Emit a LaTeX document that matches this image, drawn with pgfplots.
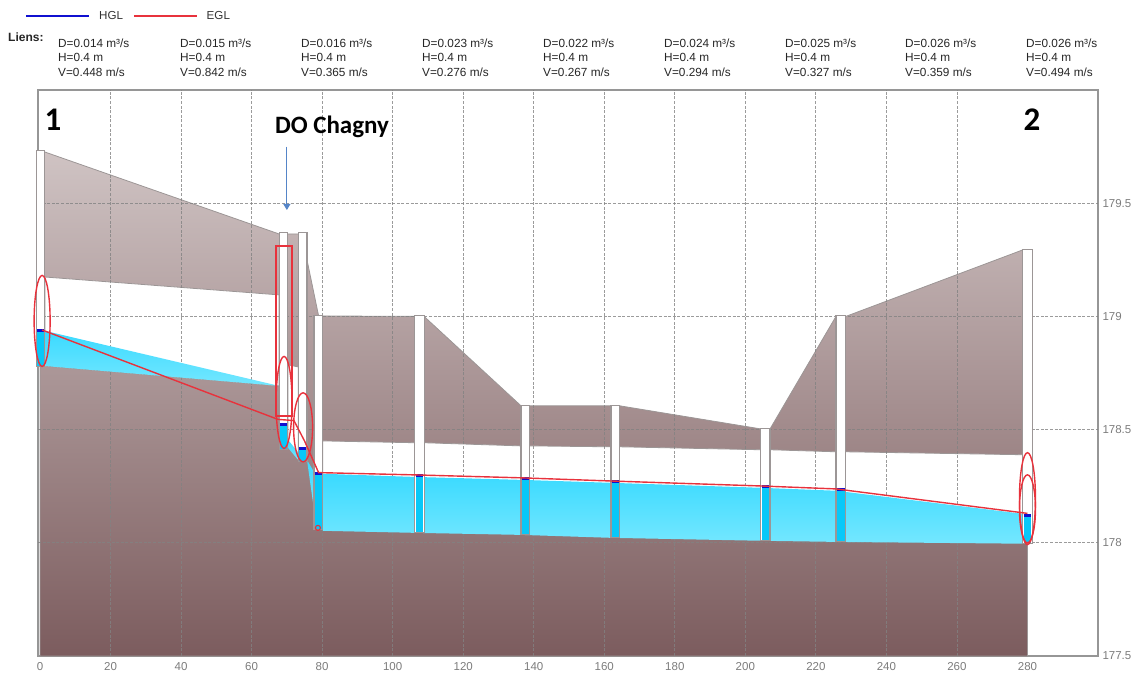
\documentclass[border=0pt]{standalone}
\usepackage{pgfplots}
\pgfplotsset{compat=1.18}
\usetikzlibrary{arrows.meta}
\usepackage{fontspec}
\setmainfont{Liberation Sans}
\newfontfamily\carlito{Carlito}
\definecolor{boxgray}{HTML}{969696}
\definecolor{gridgray}{HTML}{828282}
\definecolor{txtgray}{HTML}{7C7C7C}
\definecolor{groundtop}{HTML}{CFC3C3}
\definecolor{groundbot}{HTML}{7C5C5E}
\definecolor{edgegray}{HTML}{9C9696}
\definecolor{wattop}{HTML}{3ADAFF}
\definecolor{watbot}{HTML}{74E7FF}
\definecolor{deepw}{HTML}{08C8F8}
\definecolor{hgl}{HTML}{1010D0}
\definecolor{egl}{HTML}{E8323C}
\definecolor{arrowb}{HTML}{5585C8}
\pgfplotsset{
  manhole/.style={draw=edgegray,line width=1.1pt,fill=white,forget plot},
  deep/.style={draw=none,fill=deepw,forget plot},
  pipe/.style={draw=edgegray,line width=0.8pt,fill=white,forget plot},
  water/.style={draw=none,top color=wattop,bottom color=watbot,forget plot},
  bar/.style={hgl,line width=2.8pt,forget plot},
  gl/.style={gridgray,line width=0.8pt,dash pattern=on 3pt off 1.6pt,opacity=0.8,forget plot},
}
\newcommand{\linkinfo}[2]{\node[anchor=north west,inner sep=0pt,align=left,font=\fontsize{11.8}{14.5}\selectfont,text=black!85] at (#1pt,636.5pt) {#2};}
\begin{document}
\begin{tikzpicture}[x=1pt,y=1pt]
\path (0,0) rectangle (1137,675);
\begin{axis}[
  at={(38pt,19pt)},anchor=south west,
  width=1060pt,height=566pt,scale only axis,
  xmin=-0.57,xmax=300,ymin=177.5,ymax=180,
  axis line style={boxgray,line width=2.2pt},
  xtick={0,20,...,280},
  ytick={177.5,178,178.5,179,179.5},
  yticklabel pos=right,
  major tick length=0pt,
  tick style={draw=none},
  tick label style={text=txtgray,font=\fontsize{11.5}{13}\selectfont},
  /pgf/number format/assume math mode=true,
  /pgf/number format/fixed,
  /pgf/number format/precision=1,
  yticklabel style={xshift=1pt},
  xticklabel style={yshift=-3pt},
  clip=false,
  legend style={at={(-0.012,1.131)},anchor=west,draw=none,fill=none,legend columns=2,
    font=\fontsize{11.6}{13}\selectfont,text=black!80,
    /tikz/every odd column/.append style={column sep=7pt},
    /tikz/every even column/.append style={column sep=8pt},inner sep=0pt},
]
\addlegendimage{legend image code/.code={\draw[hgl,line width=1.7pt] (0pt,0pt) -- (63pt,0pt);}}
\addlegendentry{HGL}
\addlegendimage{legend image code/.code={\draw[egl,line width=1.7pt] (0pt,0pt) -- (63pt,0pt);}}
\addlegendentry{EGL}

% ground
\addplot[draw=edgegray,line width=0.8pt,top color=groundtop,bottom color=groundbot,forget plot] coordinates {
 (0,177.5)(0,179.726)(1.4,179.726)(67.8,179.364)(75.7,179.364)(75.7,179.25)(79,179.002)
 (106.3,179.0)(108.9,179.0)(136.4,178.605)(164.4,178.605)(204.4,178.503)(207,178.503)
 (225.7,179.0)(228.5,179.0)(278.7,179.294)(280,179.294)(280,177.5)} -- cycle;

% pipes (empty part)
\addplot[pipe] coordinates {(1.4,179.174)(67.8,179.095)(67.8,178.693)(1.4,178.781)} -- cycle;
\addplot[pipe] coordinates {(70.3,178.786)(73.2,178.777)(73.2,178.39)(70.3,178.44)} -- cycle;
\addplot[pipe] coordinates {(80.2,178.450)(106.3,178.442)(108.9,178.442)(136.4,178.428)(138.9,178.428)(161.9,178.424)(164.4,178.424)(204.4,178.411)(207,178.411)(225.7,178.402)(228.5,178.402)(278.7,178.389)(278.7,178.12)(80.2,178.30)} -- cycle;

% grid
\pgfplotsinvokeforeach{20,40,...,260}{\addplot[gl] coordinates {(#1,177.5)(#1,180)};}
\addplot[gl] coordinates {(-0.57,178)(300,178)};
\addplot[gl] coordinates {(-0.57,178.5)(300,178.5)};
\addplot[gl] coordinates {(-0.57,179)(300,179)};
\addplot[gl] coordinates {(-0.57,179.5)(300,179.5)};

% water in the pipes
\addplot[water] coordinates {(1.4,178.936)(67.8,178.693)(1.4,178.781)} -- cycle;
\addplot[water] coordinates {(70.3,178.455)(73.2,178.40)(73.2,178.366)(70.3,178.42)} -- cycle;
\addplot[water] coordinates {(75.7,178.366)(77.7,178.313)(77.7,178.146)} -- cycle;
\addplot[water] coordinates {(80.2,178.305)(106.3,178.291)(136.4,178.278)(161.9,178.265)(204.4,178.243)(225.7,178.230)(278.7,178.128)(278.7,177.996)(225.7,178.004)(204.4,178.009)(161.9,178.022)(136.4,178.035)(106.3,178.044)(80.2,178.053)} -- cycle;

% manholes
\addplot[manhole] coordinates {(-1.1,178.781)(-1.1,179.731)(1.4,179.731)(1.4,178.781)} -- cycle;
\addplot[manhole] coordinates {(67.8,178.411)(67.8,179.369)(70.3,179.369)(70.3,178.411)} -- cycle;
\addplot[manhole] coordinates {(73.2,178.358)(73.2,179.369)(75.7,179.369)(75.7,178.358)} -- cycle;
\addplot[manhole] coordinates {(77.7,178.057)(77.7,179.002)(80.2,179.002)(80.2,178.057)} -- cycle;
\addplot[manhole] coordinates {(106.3,178.044)(106.3,179.002)(108.9,179.002)(108.9,178.044)} -- cycle;
\addplot[manhole] coordinates {(136.4,178.035)(136.4,178.605)(138.9,178.605)(138.9,178.035)} -- cycle;
\addplot[manhole] coordinates {(161.9,178.022)(161.9,178.605)(164.4,178.605)(164.4,178.022)} -- cycle;
\addplot[manhole] coordinates {(204.4,178.009)(204.4,178.503)(207,178.503)(207,178.009)} -- cycle;
\addplot[manhole] coordinates {(225.7,178.004)(225.7,179.002)(228.5,179.002)(228.5,178.004)} -- cycle;
\addplot[manhole] coordinates {(278.7,177.996)(278.7,179.294)(281.3,179.294)(281.3,177.996)} -- cycle;

% water in the manholes
\addplot[deep] coordinates {(-0.9,178.783)(-0.9,178.936)(1.2,178.936)(1.2,178.783)} -- cycle;
\addplot[deep] coordinates {(68,178.413)(68,178.521)(70.1,178.521)(70.1,178.413)} -- cycle;
\addplot[deep] coordinates {(73.4,178.36)(73.4,178.415)(75.5,178.415)(75.5,178.36)} -- cycle;
\addplot[deep] coordinates {(77.9,178.059)(77.9,178.305)(80,178.305)(80,178.059)} -- cycle;
\addplot[deep] coordinates {(106.5,178.046)(106.5,178.296)(108.7,178.296)(108.7,178.046)} -- cycle;
\addplot[deep] coordinates {(136.6,178.037)(136.6,178.283)(138.7,178.283)(138.7,178.037)} -- cycle;
\addplot[deep] coordinates {(162.1,178.024)(162.1,178.269)(164.2,178.269)(164.2,178.024)} -- cycle;
\addplot[deep] coordinates {(204.6,178.011)(204.6,178.247)(206.8,178.247)(206.8,178.011)} -- cycle;
\addplot[deep] coordinates {(225.9,178.006)(225.9,178.234)(228.3,178.234)(228.3,178.006)} -- cycle;
\addplot[deep] coordinates {(278.9,177.998)(278.9,178.119)(281.1,178.119)(281.1,177.998)} -- cycle;

% HGL
\addplot[bar] coordinates {(-0.9,178.936)(1.2,178.936)};
\addplot[bar] coordinates {(68,178.521)(70.1,178.521)};
\addplot[bar] coordinates {(73.4,178.415)(75.5,178.415)};
\addplot[bar] coordinates {(77.9,178.305)(80,178.305)};
\addplot[bar] coordinates {(106.5,178.296)(108.7,178.296)};
\addplot[bar] coordinates {(136.6,178.283)(138.7,178.283)};
\addplot[bar] coordinates {(162.1,178.269)(164.2,178.269)};
\addplot[bar] coordinates {(204.6,178.247)(206.8,178.247)};
\addplot[bar] coordinates {(225.9,178.234)(228.3,178.234)};
\addplot[bar] coordinates {(278.9,178.119)(281.1,178.119)};

% EGL
\addplot[egl,line width=1.4pt,forget plot] coordinates {
 (0.6,178.94)(67.5,178.545)(72,178.54)(75,178.45)(79,178.31)
 (106.3,178.30)(136.4,178.287)(161.9,178.273)(204.4,178.251)(225.7,178.238)(280,178.13)};

% red annotations
\draw[egl,line width=2pt] (axis cs:66.9,179.313) rectangle (axis cs:71.4,178.56);
\draw[egl,line width=1.4pt] (axis cs:0.6,178.98) ellipse [x radius=8pt,y radius=45.5pt];
\draw[egl,line width=1.4pt] (axis cs:69.2,178.62) ellipse [x radius=8pt,y radius=46pt];
\draw[egl,line width=1.4pt] (axis cs:74.6,178.51) ellipse [x radius=9.5pt,y radius=34.5pt];
\draw[egl,line width=1.4pt] (axis cs:280,178.195) ellipse [x radius=8pt,y radius=46pt];
\draw[egl,line width=1.4pt] (axis cs:280,178.15) ellipse [x radius=8pt,y radius=34pt];
\draw[egl,line width=1.1pt] (axis cs:78.8,178.066) circle [radius=2.5pt];
\draw[arrowb,line width=1pt,-{Triangle[width=7pt,length=6pt]}] (axis cs:70,179.75) -- (axis cs:70,179.47);
\end{axis}

\node[anchor=west,inner sep=0pt,font=\fontsize{12}{14}\selectfont\bfseries,text=black!85] at (8pt,637.5pt) {Liens:};
\linkinfo{58}{D=0.014 m³/s\\H=0.4 m\\V=0.448 m/s}
\linkinfo{180}{D=0.015 m³/s\\H=0.4 m\\V=0.842 m/s}
\linkinfo{301}{D=0.016 m³/s\\H=0.4 m\\V=0.365 m/s}
\linkinfo{422}{D=0.023 m³/s\\H=0.4 m\\V=0.276 m/s}
\linkinfo{543}{D=0.022 m³/s\\H=0.4 m\\V=0.267 m/s}
\linkinfo{664}{D=0.024 m³/s\\H=0.4 m\\V=0.294 m/s}
\linkinfo{785}{D=0.025 m³/s\\H=0.4 m\\V=0.327 m/s}
\linkinfo{905}{D=0.026 m³/s\\H=0.4 m\\V=0.359 m/s}
\linkinfo{1026}{D=0.026 m³/s\\H=0.4 m\\V=0.494 m/s}
\node[font=\carlito\bfseries\fontsize{33}{35}\selectfont] at (53pt,555pt) {1};
\node[font=\carlito\bfseries\fontsize{33}{35}\selectfont] at (1032pt,555pt) {2};
\node[font=\carlito\bfseries\fontsize{25}{27}\selectfont] at (332pt,548pt) {DO Chagny};
\end{tikzpicture}
\end{document}
